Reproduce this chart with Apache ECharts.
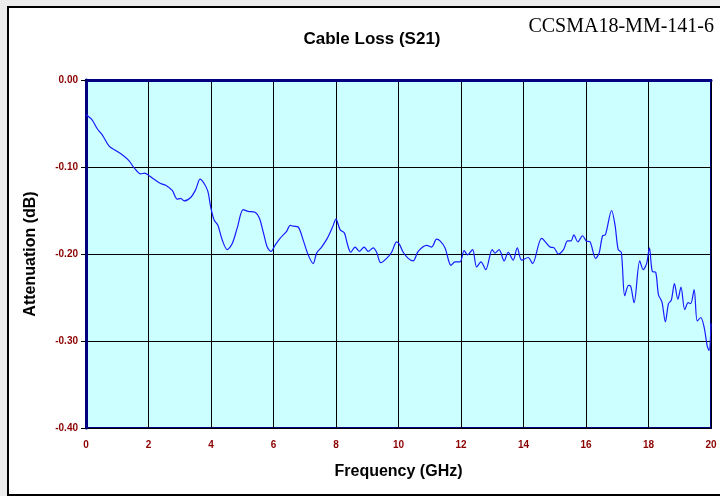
<!DOCTYPE html>
<html>
<head>
<meta charset="utf-8">
<script src="https://cdn.jsdelivr.net/npm/echarts@6/dist/echarts.min.js"></script>
<style>
  html, body { margin: 0; padding: 0; background: #ececec; }
  #chart { width: 720px; height: 496px; }
</style>
</head>
<body>
<div id="chart"></div>
<script>
// frequency in GHz
const freq = [
  0.0, 0.2, 0.36, 0.52, 0.74, 0.95, 1.16, 1.38, 1.54, 1.75, 1.88, 2.02, 2.18, 2.39, 2.55, 2.76, 2.92, 3.03, 3.14, 3.35,
  3.51, 3.65, 3.78, 3.9, 3.99, 4.1, 4.22, 4.36, 4.52, 4.68, 4.84, 5.03, 5.19, 5.41, 5.55, 5.68, 5.8, 5.92, 6.05, 6.21,
  6.42, 6.53, 6.63, 6.79, 6.95, 7.11, 7.27, 7.38, 7.54, 7.72, 7.89, 8.0, 8.13, 8.27, 8.36, 8.47, 8.61, 8.75, 8.9, 9.03,
  9.19, 9.3, 9.43, 9.62, 9.78, 9.94, 10.03, 10.15, 10.31, 10.47, 10.63, 10.9, 11.06, 11.22, 11.33, 11.49, 11.68, 11.81, 11.97, 12.1,
  12.21, 12.37, 12.5, 12.64, 12.79, 13.0, 13.09, 13.22, 13.38, 13.51, 13.67, 13.8, 13.94, 14.15, 14.29, 14.58, 14.85, 14.98, 15.12, 15.28,
  15.41, 15.52, 15.61, 15.74, 15.89, 16.01, 16.13, 16.31, 16.42, 16.53, 16.62, 16.82, 16.93, 17.03, 17.13, 17.24, 17.36, 17.43, 17.54, 17.72,
  17.83, 17.94, 18.03, 18.12, 18.23, 18.32, 18.43, 18.54, 18.64, 18.73, 18.83, 18.94, 19.04, 19.16, 19.27, 19.35, 19.46, 19.56, 19.67, 19.78,
  19.88, 19.94, 20.0
]
// S21 attenuation in dB
const atten = [
  -0.040, -0.046, -0.056, -0.063, -0.076, -0.081, -0.086, -0.093, -0.101, -0.108, -0.107, -0.110, -0.114, -0.119, -0.121, -0.127, -0.137, -0.136, -0.139, -0.135,
  -0.126, -0.114, -0.119, -0.128, -0.146, -0.161, -0.167, -0.184, -0.195, -0.188, -0.170, -0.149, -0.151, -0.152, -0.159, -0.176, -0.192, -0.197, -0.190, -0.182,
  -0.174, -0.167, -0.168, -0.169, -0.184, -0.201, -0.211, -0.199, -0.192, -0.182, -0.169, -0.160, -0.172, -0.176, -0.188, -0.198, -0.192, -0.197, -0.192, -0.197,
  -0.193, -0.198, -0.210, -0.205, -0.198, -0.186, -0.189, -0.198, -0.205, -0.208, -0.197, -0.190, -0.192, -0.183, -0.185, -0.193, -0.213, -0.209, -0.209, -0.196,
  -0.201, -0.195, -0.215, -0.209, -0.218, -0.195, -0.199, -0.195, -0.208, -0.198, -0.207, -0.193, -0.207, -0.204, -0.211, -0.182, -0.192, -0.193, -0.200, -0.195,
  -0.185, -0.185, -0.178, -0.186, -0.179, -0.185, -0.186, -0.205, -0.199, -0.179, -0.178, -0.150, -0.167, -0.195, -0.198, -0.248, -0.236, -0.237, -0.256, -0.208,
  -0.218, -0.211, -0.193, -0.220, -0.221, -0.247, -0.255, -0.278, -0.257, -0.253, -0.234, -0.252, -0.238, -0.264, -0.256, -0.257, -0.241, -0.277, -0.273, -0.284,
  -0.306, -0.311, -0.280
]
const xTicks = [0, 2, 4, 6, 8, 10, 12, 14, 16, 18, 20]
const yTicks = [0, -0.1, -0.2, -0.3, -0.4]

const chart = echarts.init(document.getElementById('chart'))

const labelStyle = { color: '#8b0000', fontFamily: 'Arial, "Liberation Sans"', fontWeight: 'bold', fontSize: 10 }

const option = {
  animation: false,
  backgroundColor: 'transparent',
  graphic: [
    {
      // outer frame, runs past the right edge like the original
      type: 'rect',
      left: 7, top: 6,
      shape: { width: 730, height: 488 },
      style: { fill: '#ffffff', stroke: '#000000', lineWidth: 2 },
      z: -10
    },
    {
      type: 'text',
      right: 6, top: 17,
      style: { text: 'CCSMA18-MM-141-6', fill: '#000', font: '20px "Liberation Serif", "Times New Roman", serif' }
    }
  ],
  title: {
    text: 'Cable Loss (S21)',
    left: 367, top: 26,
    textAlign: 'center',
    textStyle: { fontFamily: 'Arial, "Liberation Sans"', fontWeight: 'bold', fontSize: 17, color: '#000' }
  },
  grid: {
    left: 86, right: 9, top: 80, bottom: 68,
    show: true,
    backgroundColor: '#ccffff',
    borderColor: '#000080',
    borderWidth: 2
  },
  xAxis: {
    type: 'value',
    min: xTicks[0], max: xTicks[xTicks.length - 1], interval: 2,
    name: 'Frequency (GHz)',
    nameLocation: 'middle',
    nameGap: 36,
    nameTextStyle: { fontFamily: 'Arial, "Liberation Sans"', fontWeight: 'bold', fontSize: 16, color: '#000' },
    axisLine: { lineStyle: { color: '#000080', width: 3 } },
    axisTick: { show: false },
    axisLabel: { ...labelStyle, margin: 12 },
    splitLine: { lineStyle: { color: '#000', width: 1 } }
  },
  yAxis: {
    type: 'value',
    min: yTicks[yTicks.length - 1], max: yTicks[0], interval: 0.1,
    name: 'Attenuation (dB)',
    nameLocation: 'middle',
    nameGap: 47,
    nameTextStyle: { fontFamily: 'Arial, "Liberation Sans"', fontWeight: 'bold', fontSize: 16, color: '#000' },
    axisLine: { lineStyle: { color: '#000080', width: 3 } },
    axisTick: { show: true, inside: false, length: 5, lineStyle: { color: '#000' } },
    axisLabel: { ...labelStyle, margin: 8, formatter: (v) => v.toFixed(2) },
    splitLine: { lineStyle: { color: '#000', width: 1 } }
  },
  series: [
    {
      type: 'line',
      data: freq.map((f, i) => [f, atten[i]]),
      smooth: 0.3,
      symbol: 'none',
      lineStyle: { color: '#1a1aff', width: 1.2 },
      clip: true
    }
  ]
}

chart.setOption(option)
</script>
</body>
</html>
